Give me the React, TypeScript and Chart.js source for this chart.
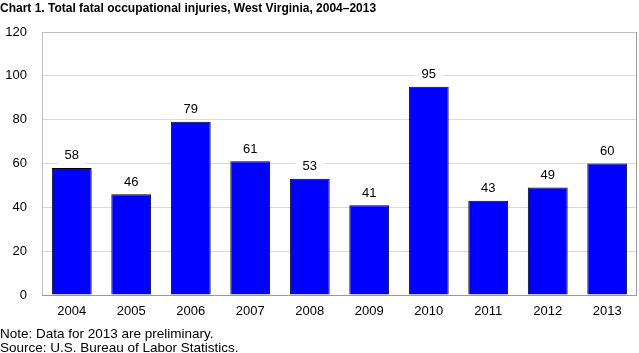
import React, { useEffect, useRef } from "react";
import { Chart, registerables } from "chart.js";

Chart.register(...registerables);

const categories = ["2004", "2005", "2006", "2007", "2008", "2009", "2010", "2011", "2012", "2013"];
const fatalities = [58, 46, 79, 61, 53, 41, 95, 43, 49, 60];
const yTicks = [0, 20, 40, 60, 80, 100, 120];
const titleText = "Chart 1. Total fatal occupational injuries, West Virginia, 2004\u20132013";
const noteLines = ["Note: Data for 2013 are preliminary.", "Source: U.S. Bureau of Labor Statistics."];

const FONT = "'Liberation Sans', Arial, sans-serif";

const decorPlugin = {
  id: "decor",
  afterDatasetsDraw(chart: any) {
    const ctx = chart.ctx;
    const area = chart.chartArea;
    ctx.save();
    // plot borders
    ctx.lineWidth = 1;
    ctx.strokeStyle = "#c0c0c0";
    ctx.beginPath();
    ctx.moveTo(area.left + 0.5, area.bottom);
    ctx.lineTo(area.left + 0.5, area.top + 0.5);
    ctx.lineTo(area.right, area.top + 0.5);
    ctx.stroke();
    ctx.strokeStyle = "#999999";
    ctx.beginPath();
    ctx.moveTo(area.right - 0.5, area.top);
    ctx.lineTo(area.right - 0.5, area.bottom);
    ctx.stroke();
    ctx.beginPath();
    ctx.moveTo(area.left, area.bottom + 0.5);
    ctx.lineTo(area.right, area.bottom + 0.5);
    ctx.stroke();

    // value labels
    const meta = chart.getDatasetMeta(0);
    ctx.font = "13px " + FONT;
    ctx.textAlign = "center";
    ctx.textBaseline = "middle";
    meta.data.forEach((bar: any, i: number) => {
      const txt = String(fatalities[i]);
      const w = ctx.measureText(txt).width + 14;
      const cy = bar.y - 12;
      ctx.fillStyle = "#ffffff";
      ctx.fillRect(bar.x - w / 2, cy - 8, w, 16);
      ctx.fillStyle = "#000000";
      ctx.fillText(txt, bar.x, cy);
    });

    // title
    ctx.textAlign = "left";
    ctx.textBaseline = "middle";
    ctx.font = "bold 12px " + FONT;
    ctx.fillText(titleText, 0, 9);

    // notes
    ctx.font = "13.5px " + FONT;
    ctx.fillText(noteLines[0], 0, 334);
    ctx.fillText(noteLines[1], 0, 348);
    ctx.restore();
  },
};

export default function App() {
  const ref = useRef<HTMLCanvasElement | null>(null);
  useEffect(() => {
    document.body.style.margin = "0";
    const canvas = ref.current!;
    const chart = new Chart(canvas, {
      type: "bar",
      data: {
        labels: categories,
        datasets: [
          {
            data: fatalities,
            backgroundColor: "#0000ff",
            borderColor: "#000000",
            borderWidth: 1,
            barPercentage: 0.67,
            categoryPercentage: 1,
          },
        ],
      },
      options: {
        animation: false,
        responsive: false,
        maintainAspectRatio: false,
        layout: { padding: { top: 32, right: 2, left: 0, bottom: 0 } },
        plugins: { legend: { display: false }, tooltip: { enabled: false }, title: { display: false } },
        scales: {
          x: {
            grid: { display: false, drawTicks: false },
            border: { display: false },
            ticks: { color: "#000", font: { family: FONT, size: 13 }, padding: 9, maxRotation: 0 },
            afterFit: (s: any) => {
              s.height = 58;
            },
          },
          y: {
            min: 0,
            max: 120,
            afterBuildTicks: (s: any) => {
              s.ticks = yTicks.map((v) => ({ value: v }));
            },
            grid: { color: "#d9d9d9", drawTicks: false },
            border: { display: false },
            ticks: { color: "#000", font: { family: FONT, size: 13 }, padding: 15 },
            afterFit: (s: any) => {
              s.width = 42;
            },
          },
        },
      },
      plugins: [decorPlugin],
    });
    return () => chart.destroy();
  }, []);
  return <canvas ref={ref} width={639} height={353} style={{ display: "block" }} />;
}
